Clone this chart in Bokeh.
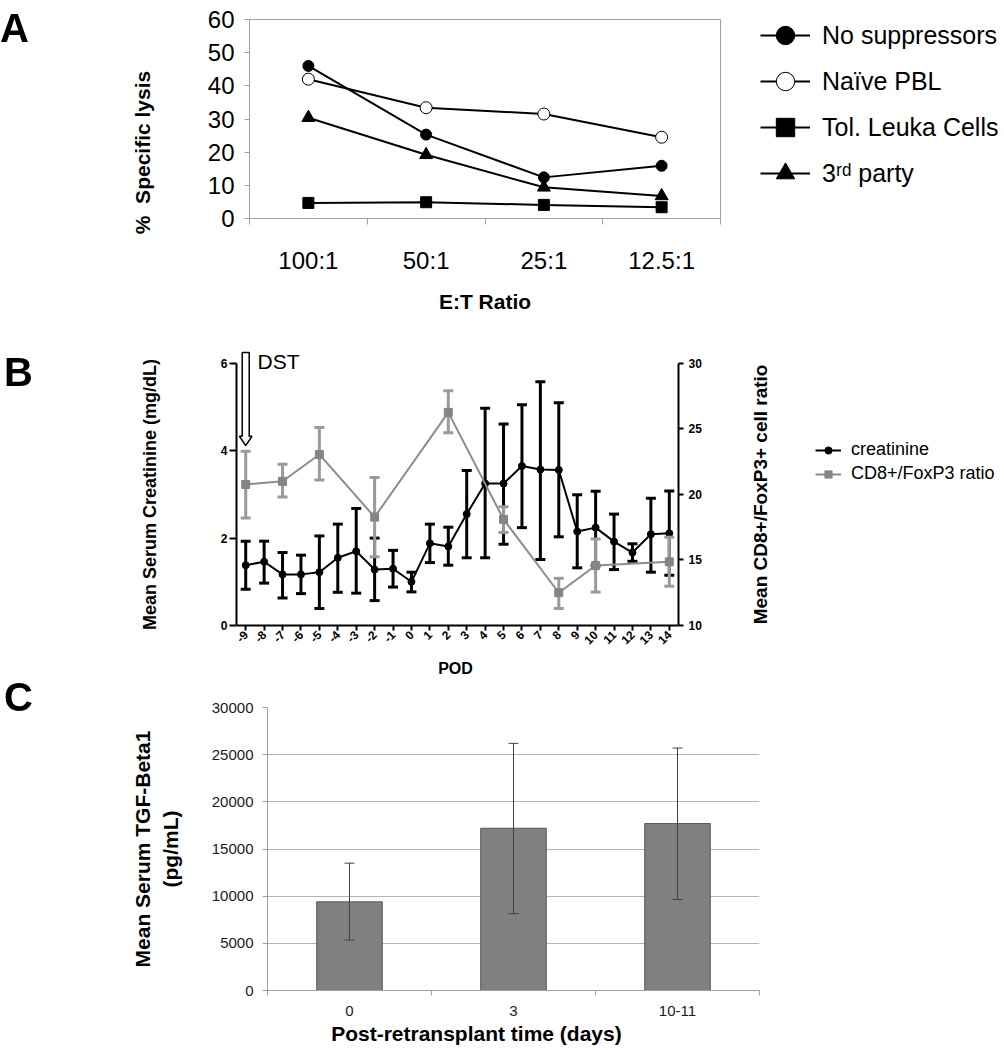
import math
from bokeh.plotting import figure
from bokeh.models import (Range1d, LinearAxis, FixedTicker, Legend, LegendItem, Label,
                          ColumnDataSource, Div)
from bokeh.embed import file_html
from bokeh.resources import INLINE

FONT = "Liberation Sans"

# ---------------- Panel A data ----------------
A_RATIOS = ["100:1", "50:1", "25:1", "12.5:1"]
A_NO_SUPPRESSORS = [46.0, 25.3, 12.4, 15.9]
A_NAIVE_PBL = [42.0, 33.4, 31.5, 24.5]
A_TOL_LEUKA = [4.7, 4.9, 4.1, 3.4]
A_THIRD_PARTY = [30.4, 19.2, 9.4, 6.8]
A_YTICKS = [0, 10, 20, 30, 40, 50, 60]

# ---------------- Panel B data ----------------
B_POD = [-9, -8, -7, -6, -5, -4, -3, -2, -1, 0, 1, 2, 3, 4, 5, 6, 7, 8, 9, 10, 11, 12, 13, 14]
B_CREAT = [1.38, 1.46, 1.17, 1.17, 1.22, 1.55, 1.70, 1.28, 1.30, 1.00, 1.88, 1.81,
           2.55, 3.25, 3.25, 3.65, 3.57, 3.56, 2.15, 2.24, 1.92, 1.67, 2.09, 2.11]
B_CREAT_HI = [1.93, 1.93, 1.67, 1.61, 2.05, 2.32, 2.68, 2.00, 1.72, 1.22, 2.32, 2.25,
              3.55, 4.97, 4.61, 5.05, 5.58, 5.10, 2.99, 3.07, 2.55, 1.87, 2.91, 3.08]
B_CREAT_LO = [0.83, 0.97, 0.63, 0.73, 0.39, 0.76, 0.74, 0.57, 0.88, 0.77, 1.44, 1.38,
              1.55, 1.55, 1.86, 2.24, 1.51, 2.03, 1.32, 1.37, 1.28, 1.47, 1.22, 1.15]
B_RATIO_POD = [-9, -7, -5, -2, 2, 5, 8, 10, 14]
B_RATIO = [20.76, 21.0, 23.05, 18.27, 26.26, 18.1, 12.5, 14.58, 14.86]
B_RATIO_HI = [23.3, 22.3, 25.1, 21.3, 27.9, 19.06, 13.6, 16.6, 16.74]
B_RATIO_LO = [18.2, 19.8, 21.1, 15.24, 24.7, 17.1, 11.3, 12.55, 13.0]
B_LEFT_TICKS = [0, 2, 4, 6]
B_RIGHT_TICKS = [10, 15, 20, 25, 30]
B_DST_DAY = -9

# ---------------- Panel C data ----------------
C_TIMES = ["0", "3", "10-11"]
C_MEAN = [9400, 17200, 17700]
C_HI = [13500, 26200, 25700]
C_LO = [5350, 8150, 9650]
C_YTICKS = [0, 5000, 10000, 15000, 20000, 25000, 30000]

# panel letters: (text, left px, top px)
PANEL_LETTERS = [("A", 0, 0), ("B", 4, 344), ("C", 4, 669)]

GREY_AX = "#a0a0a0"


def style_common(p):
    p.background_fill_color = "white"
    p.border_fill_color = "white"
    p.grid.visible = False


def title_axis(p, side, tick, text, orient, size, standoff, y_range_name=None,
               fixed_location=None):
    """An extra axis that carries only one label, used as a positioned axis title."""
    ax = LinearAxis(ticker=FixedTicker(ticks=[tick]))
    if y_range_name is not None:
        ax.y_range_name = y_range_name
    if fixed_location is not None:
        ax.fixed_location = fixed_location
    ax.major_label_overrides = {tick: text}
    ax.axis_line_color = None
    ax.major_tick_line_color = None
    ax.minor_tick_line_color = None
    ax.major_tick_out = 0
    ax.major_tick_in = 0
    ax.minor_tick_out = 0
    ax.minor_tick_in = 0
    ax.major_label_orientation = orient
    ax.major_label_standoff = standoff
    ax.major_label_text_font = FONT
    ax.major_label_text_font_style = "bold"
    ax.major_label_text_font_size = size
    ax.major_label_text_color = "black"
    p.add_layout(ax, side)
    return ax


# =========================== Panel A ===========================
a_x = [i + 0.5 for i in range(len(A_RATIOS))]
a_bounds = list(range(len(A_RATIOS) + 1))
pa = figure(frame_width=471, frame_height=199, min_border_left=249, min_border_top=19,
            min_border_bottom=95, min_border_right=280,
            x_range=Range1d(0, len(A_RATIOS)), y_range=Range1d(0, 60),
            output_backend="svg", toolbar_location=None)
style_common(pa)
pa.outline_line_color = GREY_AX
pa.outline_line_width = 1

xa = pa.xaxis[0]
xa.ticker = FixedTicker(ticks=a_x, minor_ticks=a_bounds)
xa.major_label_overrides = {x: lab for x, lab in zip(a_x, A_RATIOS)}
xa.major_tick_out = 0
xa.major_tick_in = 0
xa.minor_tick_out = 6
xa.minor_tick_in = 0
xa.minor_tick_line_color = GREY_AX
xa.axis_line_color = GREY_AX
xa.major_label_standoff = 22
xa.major_label_text_font = FONT
xa.major_label_text_font_size = "24px"
xa.major_label_text_color = "black"
xa.axis_label = "E:T Ratio"
xa.axis_label_text_font = FONT
xa.axis_label_text_font_size = "21px"
xa.axis_label_text_font_style = "bold"
xa.axis_label_text_color = "black"
xa.axis_label_standoff = 13

ya = pa.yaxis[0]
ya.ticker = FixedTicker(ticks=A_YTICKS)
ya.major_tick_out = 5
ya.major_tick_in = 0
ya.minor_tick_line_color = None
ya.major_tick_line_color = GREY_AX
ya.axis_line_color = GREY_AX
ya.major_label_standoff = 10
ya.major_label_text_font = FONT
ya.major_label_text_font_size = "24px"
ya.major_label_text_color = "black"
A_YTITLE_AT = 19.9
title_axis(pa, "left", A_YTITLE_AT, "%\u00a0 Specific lysis", "vertical", "21px", 50)

src_a = ColumnDataSource(dict(x=a_x, no=A_NO_SUPPRESSORS, naive=A_NAIVE_PBL,
                              tol=A_TOL_LEUKA, third=A_THIRD_PARTY))
items = []
specs = [("no", "No suppressors", "circle", "black", 11),
         ("naive", "Naïve PBL", "circle", "white", 12),
         ("tol", "Tol. Leuka Cells", "square", "black", 11),
         ("third", "3\u02b3\u1d48 party", "triangle", "black", 13)]
for col, lab, marker, fill, size in specs:
    ln = pa.line("x", col, source=src_a, line_color="black", line_width=2)
    sc = pa.scatter("x", col, source=src_a, marker=marker, size=size,
                    fill_color=fill, line_color="black", line_width=1)
    items.append(LegendItem(label=lab, renderers=[ln, sc]))

leg_a = Legend(items=items, location=(40, 22), glyph_width=50, glyph_height=46,
               spacing=0, padding=0, margin=0, label_standoff=12,
               label_text_font=FONT, label_text_font_size="25px",
               label_text_color="black",
               border_line_color=None, background_fill_alpha=0)
pa.add_layout(leg_a, "right")

# =========================== Panel B ===========================
B_LEFT_MAX = 6
B_HEAD = 0.5
B_PX_PER_DAY = 442 / 24.0          # horizontal scale of the data area
B_PX_PER_UNIT = 284 / 6.5          # vertical scale (left axis units)
B_FRAME_W = 764                    # data area + room for right axis, title and legend
B_FRAME_H = 338                    # data area + room for the day labels and "POD"
r_lo, r_hi = B_RIGHT_TICKS[0], B_RIGHT_TICKS[-1]
scale_lr = (r_hi - r_lo) / B_LEFT_MAX
x_lo = B_POD[0] - 0.5
x_hi = B_POD[-1] + 0.5
y_top = B_LEFT_MAX + B_HEAD
y_bot = y_top - B_FRAME_H / B_PX_PER_UNIT
pb = figure(frame_width=B_FRAME_W, frame_height=B_FRAME_H, min_border_left=236,
            min_border_top=26, min_border_bottom=0, min_border_right=0,
            x_range=Range1d(x_lo, x_lo + B_FRAME_W / B_PX_PER_DAY),
            y_range=Range1d(y_bot, y_top),
            output_backend="svg", toolbar_location=None)
style_common(pb)
pb.outline_line_color = None
pb.extra_y_ranges = {"ratio": Range1d(r_lo + y_bot * scale_lr, r_lo + y_top * scale_lr)}

xb = pb.xaxis[0]
xb.fixed_location = 0
xb.ticker = FixedTicker(ticks=B_POD)
xb.bounds = (x_lo, x_hi)
xb.major_label_overrides = {d: str(d) for d in B_POD}
xb.axis_line_width = 2
xb.axis_line_color = "black"
xb.major_tick_line_width = 2
xb.major_tick_out = 5
xb.major_tick_in = 0
xb.minor_tick_line_color = None
xb.major_label_orientation = math.pi / 4
xb.major_label_standoff = 2
xb.major_label_text_font = FONT
xb.major_label_text_font_style = "bold"
xb.major_label_text_font_size = "12px"
xb.major_label_text_color = "black"
title_axis(pb, "below", (x_lo + x_hi) / 2 - 2 / B_PX_PER_DAY, "POD", "horizontal", "16px",
           34, fixed_location=0)

yb = pb.yaxis[0]
yb.ticker = FixedTicker(ticks=B_LEFT_TICKS)
yb.bounds = (0, B_LEFT_MAX)
yb.axis_line_width = 2
yb.axis_line_color = "black"
yb.major_tick_line_width = 2
yb.major_tick_out = 7
yb.major_tick_in = 0
yb.minor_tick_line_color = None
yb.major_label_standoff = 2
yb.major_label_text_font = FONT
yb.major_label_text_font_style = "bold"
yb.major_label_text_font_size = "12px"
yb.major_label_text_color = "black"
title_axis(pb, "left", B_LEFT_MAX / 2, "Mean Serum Creatinine (mg/dL)", "vertical", "18px", 57)

rb = LinearAxis(y_range_name="ratio", ticker=FixedTicker(ticks=B_RIGHT_TICKS),
                bounds=(r_lo, r_hi), fixed_location=x_hi)
rb.axis_line_width = 2
rb.axis_line_color = "black"
rb.major_tick_line_width = 2
rb.major_tick_out = 5
rb.major_tick_in = 0
rb.minor_tick_line_color = None
rb.major_label_standoff = 5
rb.major_label_text_font = FONT
rb.major_label_text_font_style = "bold"
rb.major_label_text_font_size = "12px"
rb.major_label_text_color = "black"
pb.add_layout(rb, "right")

src_c = ColumnDataSource(dict(x=B_POD, y=B_CREAT, hi=B_CREAT_HI, lo=B_CREAT_LO))
pb.segment("x", "lo", "x", "hi", source=src_c, line_color="black", line_width=3)
pb.scatter("x", "hi", source=src_c, marker="dash", size=10, line_color="black", line_width=3)
pb.scatter("x", "lo", source=src_c, marker="dash", size=10, line_color="black", line_width=3)
lc = pb.line("x", "y", source=src_c, line_color="black", line_width=2)
sc_c = pb.scatter("x", "y", source=src_c, marker="circle", size=7, fill_color="black",
                  line_color="black")

src_r = ColumnDataSource(dict(x=B_RATIO_POD, y=B_RATIO, hi=B_RATIO_HI, lo=B_RATIO_LO))
GREY_BAR = "#9a9a9a"
pb.segment("x", "lo", "x", "hi", source=src_r, line_color=GREY_BAR, line_width=3,
           y_range_name="ratio")
pb.scatter("x", "hi", source=src_r, marker="dash", size=10, line_color=GREY_BAR,
           line_width=3, y_range_name="ratio")
pb.scatter("x", "lo", source=src_r, marker="dash", size=10, line_color=GREY_BAR,
           line_width=3, y_range_name="ratio")
lr = pb.line("x", "y", source=src_r, line_color="#8c8c8c", line_width=2, y_range_name="ratio")
sr = pb.scatter("x", "y", source=src_r, marker="square", size=8, fill_color="#858585",
                line_color="#858585", y_range_name="ratio")

# legend: its bottom edge sits 482 px from the page top, i.e. 195 px above the frame bottom
leg_b = Legend(items=[LegendItem(label="creatinine", renderers=[lc, sc_c]),
                      LegendItem(label="CD8+/FoxP3 ratio", renderers=[lr, sr])],
               location=(579, 195), glyph_width=26, glyph_height=18, spacing=3,
               padding=0, margin=0, label_standoff=10, label_text_font=FONT,
               label_text_font_size="18px", label_text_color="black",
               border_line_color=None, background_fill_alpha=0)
pb.add_layout(leg_b)

# right-hand axis title (reads bottom to top)
pb.add_layout(Label(x=x_hi + 82 / B_PX_PER_DAY, y=B_LEFT_MAX / 2,
                    text="Mean CD8+/FoxP3+ cell ratio", angle=math.pi / 2,
                    text_align="center", text_baseline="middle", text_font=FONT,
                    text_font_style="bold", text_font_size="19px", text_color="black"))

# DST hollow arrow and label
ax0 = B_DST_DAY
top, base, tip, hw, hh = 6.25, 4.33, 4.12, 0.19, 0.34
pb.patch([ax0 - hw, ax0 + hw, ax0 + hw, ax0 + hh, ax0, ax0 - hh, ax0 - hw],
         [top, top, base, base, tip, base, base],
         fill_color="white", line_color="black", line_width=1.5)
pb.add_layout(Label(x=B_DST_DAY + 0.64, y=6.05, text="DST", text_font=FONT,
                    text_font_size="21px", text_baseline="alphabetic", text_color="black"))

# =========================== Panel C ===========================
c_x = [i + 0.5 for i in range(len(C_TIMES))]
c_bounds = list(range(len(C_TIMES) + 1))
pc = figure(frame_width=492, frame_height=283, min_border_left=267, min_border_top=28,
            min_border_bottom=58, min_border_right=241,
            x_range=Range1d(0, len(C_TIMES)), y_range=Range1d(0, 30000),
            output_backend="svg", toolbar_location=None)
style_common(pc)
pc.outline_line_color = None
pc.ygrid.visible = True
pc.ygrid.grid_line_color = "#b4b4b4"
pc.ygrid.grid_line_width = 1

xc = pc.xaxis[0]
xc.ticker = FixedTicker(ticks=c_x, minor_ticks=c_bounds)
xc.major_label_overrides = {x: lab for x, lab in zip(c_x, C_TIMES)}
xc.major_tick_out = 0
xc.major_tick_in = 0
xc.minor_tick_out = 5
xc.minor_tick_in = 0
xc.minor_tick_line_color = GREY_AX
xc.axis_line_color = GREY_AX
xc.major_label_standoff = 10
xc.major_label_text_font = FONT
xc.major_label_text_font_size = "15px"
xc.major_label_text_color = "#1a1a1a"
C_XTITLE_AT = 1.274
title_axis(pc, "below", C_XTITLE_AT, "Post-retransplant time (days)", "horizontal", "21px", 3)

yc = pc.yaxis[0]
yc.ticker = FixedTicker(ticks=C_YTICKS)
yc.major_tick_out = 5
yc.major_tick_in = 0
yc.minor_tick_line_color = None
yc.major_tick_line_color = GREY_AX
yc.axis_line_color = GREY_AX
yc.major_label_standoff = 9
yc.major_label_text_font = FONT
yc.major_label_text_font_size = "15px"
yc.major_label_text_color = "#1a1a1a"
yc.axis_label = "Mean Serum TGF-Beta1\n(pg/mL)"
yc.axis_label_text_font = FONT
yc.axis_label_text_font_style = "bold"
yc.axis_label_text_font_size = "21px"
yc.axis_label_text_color = "black"
yc.axis_label_standoff = 27

src_t = ColumnDataSource(dict(x=c_x, top=C_MEAN, hi=C_HI, lo=C_LO))
pc.vbar(x="x", top="top", width=0.4, bottom=0, source=src_t, fill_color="#808080",
        line_color="#5a5a5a", line_width=1)
pc.segment("x", "lo", "x", "hi", source=src_t, line_color="#404040", line_width=1)
pc.scatter("x", "hi", source=src_t, marker="dash", size=10, line_color="#404040", line_width=1)
pc.scatter("x", "lo", source=src_t, marker="dash", size=10, line_color="#404040", line_width=1)

# =========================== panel letters ===========================
letters_html = "".join(
    f'<div style="position:fixed; left:{x}px; top:{y}px; '
    f'font-family:\'Liberation Sans\', Arial, sans-serif; font-weight:bold; '
    f'font-size:40px; color:black;">{t}</div>'
    for t, x, y in PANEL_LETTERS)
overlay = Div(text=letters_html, width=10, height=10,
              styles={"position": "fixed", "left": "0px", "top": "0px"})

open("out.html", "w").write(file_html([pa, pb, pc, overlay], INLINE))
